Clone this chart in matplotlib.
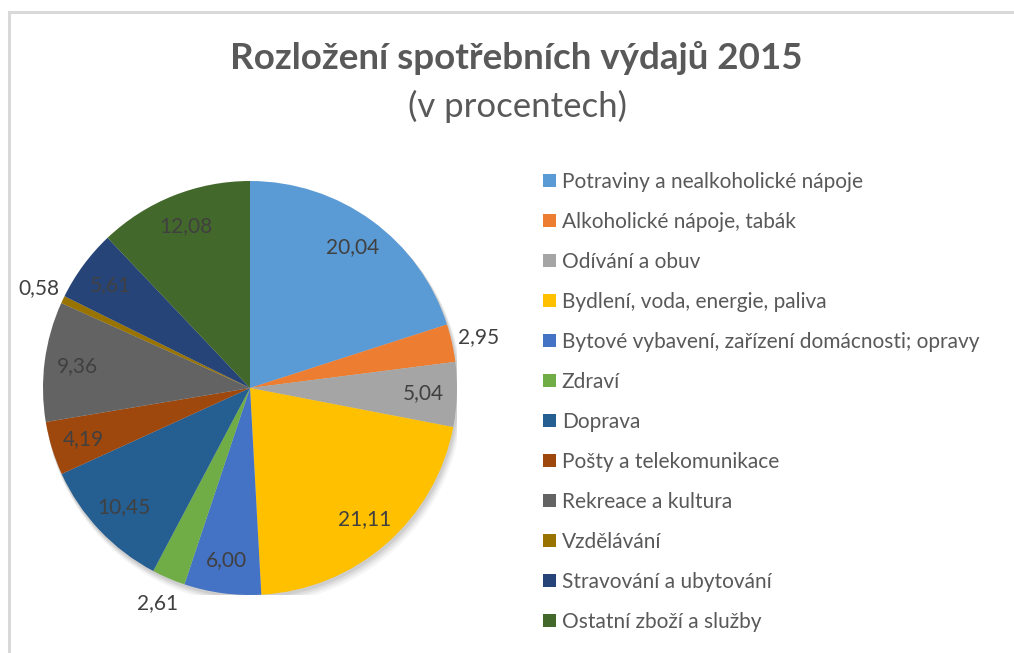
import matplotlib
matplotlib.use("Agg")
import matplotlib.pyplot as plt
import numpy as np
from matplotlib.patches import Circle, Rectangle

categories = [
    "Potraviny a nealkoholické nápoje",
    "Alkoholické nápoje, tabák",
    "Odívání a obuv",
    "Bydlení, voda, energie, paliva",
    "Bytové vybavení, zařízení domácnosti; opravy",
    "Zdraví",
    "Doprava",
    "Pošty a telekomunikace",
    "Rekreace a kultura",
    "Vzdělávání",
    "Stravování a ubytování",
    "Ostatní zboží a služby",
]
values = [20.04, 2.95, 5.04, 21.11, 6.00, 2.61, 10.45, 4.19, 9.36, 0.58, 5.61, 12.08]
value_labels = ["20,04", "2,95", "5,04", "21,11", "6,00", "2,61", "10,45", "4,19", "9,36", "0,58", "5,61", "12,08"]
outside = [False, True, False, False, False, True, False, False, False, True, False, False]

colors = ["#5B9BD5", "#ED7D31", "#A5A5A5", "#FFC000", "#4472C4", "#70AD47",
          "#255E91", "#9E480E", "#636363", "#997300", "#264478", "#43682B"]

plt.rcParams['font.family'] = ['Lato', 'DejaVu Sans']

W, H = 1014, 653
fig = plt.figure(figsize=(W / 100, H / 100), dpi=100)
fig.patch.set_facecolor("white")

# frame lines (top and left)
fig.add_artist(Rectangle((8 / W, 0), 3 / W, (H - 11) / H, transform=fig.transFigure,
                         facecolor="#D9D9D9", edgecolor="none"))
fig.add_artist(Rectangle((8 / W, (H - 14) / H), (W - 8) / W, 3 / H, transform=fig.transFigure,
                         facecolor="#D9D9D9", edgecolor="none"))

cx, cy, R = 250, 388, 207
ax = fig.add_axes([(cx - R) / W, (H - cy - R) / H, 2 * R / W, 2 * R / H])
ax.axis("off")

wedges, _ = ax.pie(values, colors=colors, startangle=90, counterclock=False, radius=1.0,
                   wedgeprops=dict(linewidth=0, edgecolor="none"))
for w in wedges:
    w.set_zorder(2)

# soft shadow
for off, a in [(0.035, 0.035), (0.027, 0.045), (0.02, 0.055), (0.012, 0.07)]:
    ax.add_patch(Circle((off * 0.5, -off), 1.0 + off * 0.3, facecolor="black",
                        alpha=a, edgecolor="none", zorder=0))

ax.set_xlim(-1, 1)
ax.set_ylim(-1, 1)
ax.set_aspect("equal")

total = sum(values)
cum = 0.0
for v, lab, out in zip(values, value_labels, outside):
    mid = 90 - (cum + v / 2) / total * 360
    cum += v
    th = np.deg2rad(mid)
    r = 1.13 if out else 0.84
    ax.text(r * np.cos(th), r * np.sin(th), lab, ha="center", va="center",
            fontsize=15, color="#404040", zorder=5)

fig.text(516 / W, 1 - 58 / H, "Rozložení spotřebních výdajů 2015", ha="center", va="center",
         fontsize=26.5, fontweight="bold", color="#595959")
fig.text(517 / W, 1 - 106 / H, "(v procentech)", ha="center", va="center",
         fontsize=25, color="#595959")

leg = fig.legend(wedges, categories, loc="upper left",
                 bbox_to_anchor=(543 / W, 1 - 172 / H), frameon=False,
                 fontsize=15, handlelength=0.6, handleheight=0.6, handletextpad=0.3,
                 labelspacing=0.96, borderaxespad=0, borderpad=0)
for t in leg.get_texts():
    t.set_color("#595959")

fig.savefig("out.png", dpi=100, facecolor="white")
